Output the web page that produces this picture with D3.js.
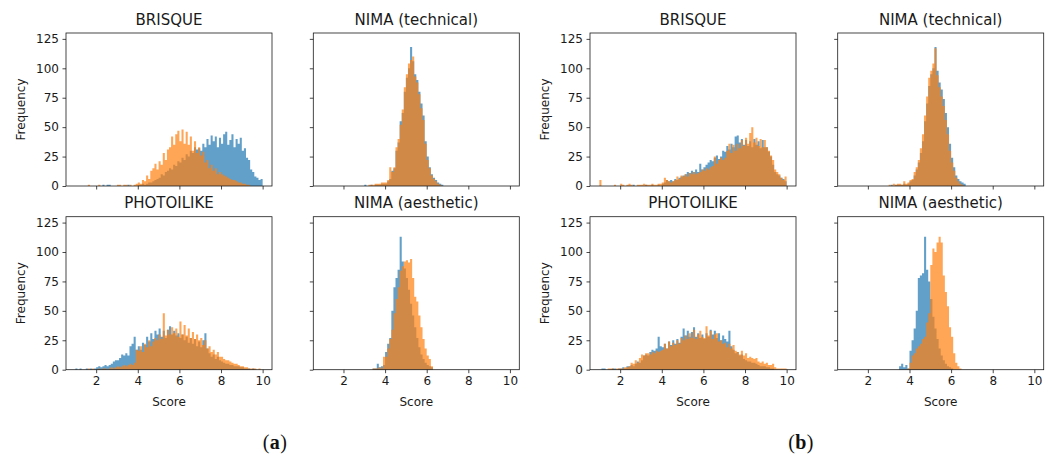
<!DOCTYPE html>
<html>
<head>
<meta charset="utf-8">
<script src="https://cdn.jsdelivr.net/npm/d3@7"></script>
<style>
  body { margin: 0; background: #fff; }
  svg { display: block; font-family: "DejaVu Sans", sans-serif; }
  .tick text { font-size: 12px; fill: #1a1a1a; }
  .tick line { stroke: #1a1a1a; stroke-width: 0.8; }
</style>
</head>
<body>
<svg width="1053" height="457"></svg>
<script>
// bin width of every histogram, in score units
const binWidth = 0.1;
const xTicks = [2, 4, 6, 8, 10];
const yTicks = [0, 25, 50, 75, 100, 125];

// counts per bin, (a) panels. BRISQUE / PHOTOILIKE bins start at 1.0, NIMA bins at 3.0
const aBrisqueBlue = [
  0,0,0,0,0,0,0,0,0,0, 0,0,0,1,0,1,1,0,0,0, 0,0,0,0,0,1,0,0,0,0,
  1,1,2,1,2,3,3,4,5,6, 7,10,9,12,13,15,14,18,17,21, 20,24,22,27,25,30,28,33,31,32,
  30,36,33,40,35,43,38,42,33,41, 36,44,46,35,39,44,33,40,36,41, 30,32,24,22,14,12,8,7,5,6];
const aBrisqueOrange = [
  0,0,0,0,0,0,1,0,0,0, 0,1,0,0,0,0,0,0,0,0, 1,1,0,1,1,0,1,0,1,2,
  3,2,5,4,9,6,13,15,19,14, 21,18,28,22,31,33,42,35,44,47, 38,48,36,46,35,42,30,38,28,33,
  26,29,20,22,15,18,13,15,10,12, 10,9,8,7,6,5,5,4,3,3, 2,2,1,1,0,0,0,0,0,0];
const aPhotoBlue = [
  1,0,1,0,0,1,0,1,0,1, 2,3,2,3,4,3,4,5,7,8, 8,10,13,12,14,12,20,22,28,17,
  20,17,23,21,28,24,31,26,33,30, 35,28,33,27,34,37,30,33,29,31, 27,30,25,28,23,27,22,26,20,24,
  19,25,31,18,14,11,13,9,11,8, 7,6,5,5,4,4,3,3,3,2, 2,1,1,1,0,1,0,0,0,0];
const aPhotoOrange = [
  0,0,0,0,0,0,1,0,1,0, 0,1,0,1,1,0,1,2,1,2, 3,2,3,4,3,4,5,4,6,17,
  16,20,15,22,19,25,20,24,27,25, 30,26,48,29,34,30,36,31,35,28, 41,30,38,29,35,27,32,26,30,25,
  27,21,25,18,20,15,17,13,15,11, 11,9,8,8,7,6,5,5,4,3, 3,2,2,1,1,1,1,0,1,0];
const aNimaTechBlue = [
  1,0,0,1,0,1,1,1,2,2, 2,4,6,13,15,30,37,55,62,80,
  92,100,118,106,95,90,80,70,60,38, 25,16,10,7,5,3,2,1,0,0];
const aNimaTechOrange = [
  0,0,1,1,1,2,2,2,3,3, 3,5,16,12,16,33,40,52,65,84,
  95,104,107,110,93,88,78,66,56,36, 22,15,9,6,4,2,1,0,0,0];
const aNimaAesBlue = [
  0,0,0,0,1,1,5,2,3,4, 15,22,27,50,70,78,85,113,92,86,
  78,68,56,46,36,27,19,13,9,6, 4,3,2,0,0,0,0,0,0,0];
const aNimaAesOrange = [
  0,0,0,0,1,1,1,2,1,11, 11,18,26,34,48,60,70,84,88,92,
  93,91,94,78,62,58,46,36,26,18, 12,9,3,0,0,0,0,0,0,0];

// counts per bin, (b) panels
const bBrisqueBlue = [
  0,0,0,0,0,0,0,0,0,0, 0,0,0,0,0,0,1,0,0,0, 0,0,1,0,0,1,0,0,1,0,
  2,3,5,4,5,4,6,5,7,8, 9,10,12,11,13,12,14,12,19,14, 16,18,20,22,21,24,26,23,25,30,
  29,34,31,36,33,42,43,37,40,35, 39,34,38,33,40,35,38,32,39,33, 33,29,25,18,12,10,9,7,6,4];
const bBrisqueOrange = [
  5,0,0,0,0,0,0,1,0,0, 2,1,0,1,2,1,0,0,1,1, 1,2,1,1,1,2,1,1,2,2,
  3,7,5,4,3,4,5,8,6,9, 8,10,8,11,10,12,10,11,12,14, 13,15,14,16,17,25,19,22,24,22,
  24,30,36,28,35,30,36,32,39,34, 41,36,45,50,37,41,34,40,33,39, 33,30,26,22,14,12,10,7,5,8];
const bPhotoBlue = [
  0,1,1,0,0,0,1,1,0,1, 1,2,1,3,3,4,3,5,7,6, 8,12,13,12,15,17,16,18,28,20,
  19,22,18,24,21,25,22,26,23,28, 35,29,33,28,32,36,28,31,27,30, 26,31,28,34,30,33,27,31,25,29,
  26,24,33,20,17,14,15,12,13,9, 8,7,7,6,6,5,4,3,3,3, 2,2,1,1,0,0,0,0,0,0];
const bPhotoOrange = [
  0,0,0,0,1,1,1,0,1,1, 1,1,2,2,3,6,5,8,6,10, 13,12,14,14,13,15,14,16,15,16,
  17,22,18,24,20,23,21,25,22,27, 25,29,26,31,27,34,26,30,33,28, 27,37,29,33,26,30,31,24,25,22,
  23,19,22,18,21,16,15,13,16,12, 14,10,11,10,9,10,7,6,7,5, 6,4,4,5,2,1,1,1,1,1];
const bNimaTechBlue = [
  0,1,0,1,1,1,1,2,1,2, 4,5,9,14,20,28,38,55,70,85,
  95,100,118,98,88,82,74,62,50,36, 24,16,9,6,4,3,2,0,0,0];
const bNimaTechOrange = [
  1,0,2,1,2,2,1,4,2,3, 5,6,12,16,22,32,44,60,76,92,
  98,104,117,94,84,76,68,56,44,30, 20,13,7,4,2,1,0,0,0,0];
const bNimaAesBlue = [
  0,0,0,0,0,3,5,2,4,1, 16,25,35,50,78,80,82,113,85,75,
  60,45,35,26,18,12,8,5,3,2, 1,0,0,0,0,0,0,0,0,0];
const bNimaAesOrange = [
  0,0,0,0,0,0,0,0,0,1, 6,12,14,18,20,22,26,28,40,48,
  89,103,100,108,113,108,80,66,54,36, 28,14,6,3,1,0,0,0,0,0];

const panels = [
  { title: "BRISQUE",          col: 0, row: 0, start: 1, blue: aBrisqueBlue,  orange: aBrisqueOrange },
  { title: "NIMA (technical)", col: 1, row: 0, start: 3, blue: aNimaTechBlue, orange: aNimaTechOrange },
  { title: "PHOTOILIKE",       col: 0, row: 1, start: 1, blue: aPhotoBlue,    orange: aPhotoOrange },
  { title: "NIMA (aesthetic)", col: 1, row: 1, start: 3, blue: aNimaAesBlue,  orange: aNimaAesOrange },
  { title: "BRISQUE",          col: 2, row: 0, start: 1, blue: bBrisqueBlue,  orange: bBrisqueOrange },
  { title: "NIMA (technical)", col: 3, row: 0, start: 3, blue: bNimaTechBlue, orange: bNimaTechOrange },
  { title: "PHOTOILIKE",       col: 2, row: 1, start: 1, blue: bPhotoBlue,    orange: bPhotoOrange },
  { title: "NIMA (aesthetic)", col: 3, row: 1, start: 3, blue: bNimaAesBlue,  orange: bNimaAesOrange }
];

const svg = d3.select("svg");
const colLeft = [66, 313.3, 590, 837.7];
const rowTop = [33, 216.7];
const pw = 206, ph = 153;

const x = d3.scaleLinear().domain([0.55, 10.45]).range([0, pw]);
const y = d3.scaleLinear().domain([0, 130]).range([ph, 0]);

// step outline of one histogram
function histArea(counts, start) {
  const pts = counts.map((c, i) => ({ s: start + i * binWidth, c: c }));
  pts.push({ s: start + counts.length * binWidth, c: 0 });
  return d3.area()
    .x(d => x(d.s))
    .y0(y(0))
    .y1(d => y(d.c))
    .curve(d3.curveStepAfter)(pts);
}

panels.forEach(p => {
  const g = svg.append("g").attr("transform", `translate(${colLeft[p.col]},${rowTop[p.row]})`);

  g.append("path").attr("d", histArea(p.blue, p.start))
    .attr("fill", "#1f77b4").attr("fill-opacity", 0.7);
  g.append("path").attr("d", histArea(p.orange, p.start))
    .attr("fill", "#ff7f0e").attr("fill-opacity", 0.7);

  const xAxis = d3.axisBottom(x).tickValues(xTicks).tickSize(3.5).tickPadding(3.5).tickSizeOuter(0);
  if (p.row === 0) xAxis.tickFormat("");
  g.append("g").attr("transform", `translate(0,${ph})`).call(xAxis)
    .call(a => a.select(".domain").remove());

  const yAxis = d3.axisLeft(y).tickValues(yTicks).tickSize(3.5).tickPadding(3.5).tickSizeOuter(0);
  if (p.col % 2 === 1) yAxis.tickFormat("");
  g.append("g").call(yAxis).call(a => a.select(".domain").remove());

  g.selectAll(".tick text").attr("font-family", "DejaVu Sans");

  g.append("rect").attr("width", pw).attr("height", ph)
    .attr("fill", "none").attr("stroke", "#1a1a1a").attr("stroke-width", 0.8);

  g.append("text").attr("x", pw / 2).attr("y", -8.5)
    .attr("text-anchor", "middle").attr("font-size", 15).attr("fill", "#1a1a1a")
    .text(p.title);

  if (p.col % 2 === 0) {
    g.append("text")
      .attr("transform", `translate(${-44.3},${ph / 2}) rotate(-90)`)
      .attr("text-anchor", "middle").attr("dominant-baseline", "middle")
      .attr("font-size", 12).attr("fill", "#1a1a1a")
      .text("Frequency");
  }
  if (p.row === 1) {
    g.append("text").attr("x", pw / 2).attr("y", ph + 36)
      .attr("text-anchor", "middle").attr("font-size", 12).attr("fill", "#1a1a1a")
      .text("Score");
  }
});

// sub-figure captions
[["a", 275], ["b", 801]].forEach(([lbl, cx]) => {
  const t = svg.append("text").attr("x", cx).attr("y", 449)
    .attr("text-anchor", "middle").attr("font-family", "Liberation Serif, serif")
    .attr("font-size", 20).attr("letter-spacing", 0.4).attr("fill", "#111");
  t.append("tspan").text("(");
  t.append("tspan").attr("font-weight", "bold").text(lbl);
  t.append("tspan").text(")");
});
</script>
</body>
</html>
